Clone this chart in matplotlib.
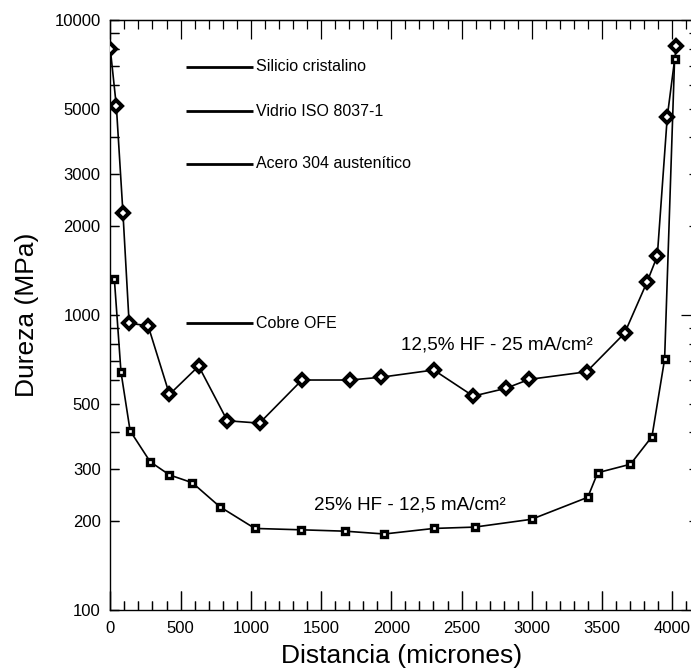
import matplotlib
matplotlib.use("Agg")
import matplotlib.pyplot as plt
from matplotlib.ticker import FixedLocator, NullFormatter, FixedFormatter

plt.rcParams['font.family'] = ['Liberation Sans', 'DejaVu Sans']

# Series 1: 12,5% HF - 25 mA/cm2 (diamonds)
dist_a = [0, 43, 90, 134, 269, 421, 629, 833, 1062, 1364, 1705, 1924, 2302,
          2583, 2814, 2981, 3390, 3660, 3821, 3893, 3964, 4029]
hard_a = [7970, 5110, 2220, 937, 920, 538, 671, 438, 430, 602, 602, 615, 651,
          531, 564, 605, 642, 867, 1297, 1585, 4700, 8180]

# Series 2: 25% HF - 12,5 mA/cm2 (squares)
dist_b = [29, 76, 141, 284, 421, 584, 779, 1029, 1359, 1671, 1950, 2302, 2593,
          2998, 3398, 3469, 3702, 3855, 3945, 4016]
hard_b = [1321, 641, 405, 318, 287, 270, 224, 189, 187, 185, 181, 189, 191,
          203, 241, 292, 312, 387, 708, 7360]

# Reference materials
ref_names = ["Silicio cristalino", "Vidrio ISO 8037-1", "Acero 304 austenítico", "Cobre OFE"]
ref_values = [6950, 4915, 3250, 937]
ref_x = [540, 1015]

label_a = "12,5% HF - 25 mA/cm²"
label_b = "25% HF - 12,5 mA/cm²"

ytick_major = [100, 200, 300, 500, 1000, 2000, 3000, 5000, 10000]
ytick_minor = [400, 600, 700, 800, 900, 4000, 6000, 7000, 8000, 9000]
xtick_major = list(range(0, 4001, 500))
xtick_minor = [v for v in range(0, 4101, 100) if v % 500 != 0]

AX_W_PX = 692 - 110.3
AX_H_PX = 590.0
PT = 100 / 72.0
XMAJ_LEN, XMIN_LEN, Y_LEN = 13.5, 6.5, 6.5

fig = plt.figure(figsize=(6.91, 6.72), dpi=100)
ax = fig.add_axes([110.3/691, 62/672, AX_W_PX/691, AX_H_PX/672])

ax.plot(dist_a, hard_a, color='black', lw=1.2, marker='D', ms=6.5,
        mfc='white', mec='black', mew=2.9, zorder=3)
ax.plot(dist_b, hard_b, color='black', lw=1.2, marker='s', ms=5,
        mfc='white', mec='black', mew=2.4, zorder=3)

for name, v in zip(ref_names, ref_values):
    ax.plot(ref_x, [v, v], color='black', lw=2.0, solid_capstyle='butt')
    ax.text(ref_x[1] + 20, v, name, fontsize=11.5, va='center', ha='left')

ax.text(2752, 791, label_a, fontsize=13.6, ha='center', va='center')
ax.text(2130, 227, label_b, fontsize=13.6, ha='center', va='center')

ax.set_yscale('log')
ax.set_xlim(0, 4140)
ax.set_ylim(100, 10000)

ax.yaxis.set_major_locator(FixedLocator(ytick_major))
ax.yaxis.set_major_formatter(FixedFormatter([str(v) for v in ytick_major]))
ax.yaxis.set_minor_locator(FixedLocator(ytick_minor))
ax.yaxis.set_minor_formatter(NullFormatter())
ax.xaxis.set_major_locator(FixedLocator(xtick_major))
ax.xaxis.set_major_formatter(FixedFormatter([str(v) for v in xtick_major]))
ax.xaxis.set_minor_locator(FixedLocator(xtick_minor))
ax.xaxis.set_minor_formatter(NullFormatter())

ax.tick_params(axis='x', which='major', direction='in', length=XMAJ_LEN, width=0.9,
               bottom=True, top=False, labelsize=12, pad=8)
ax.tick_params(axis='x', which='minor', direction='in', length=XMIN_LEN, width=0.9,
               bottom=True, top=False)
ax.tick_params(axis='y', which='both', direction='in', length=Y_LEN, width=0.9,
               left=True, right=False, labelsize=12, pad=7)

for s in ax.spines.values():
    s.set_linewidth(1.0)


def hidden_spines(a):
    for sp in a.spines.values():
        sp.set_visible(False)


# bottom inward ticks: thin secondary axes placed one tick-length above the
# bottom spine, with downward ticks reaching the spine
bmaj = ax.secondary_xaxis(XMAJ_LEN * PT / AX_H_PX)
bmaj.xaxis.set_ticks_position('top')
bmaj.xaxis.set_major_locator(FixedLocator(xtick_major))
bmaj.xaxis.set_minor_locator(FixedLocator([]))
bmaj.xaxis.set_major_formatter(NullFormatter())
bmaj.tick_params(axis='x', which='major', direction='in', length=XMAJ_LEN, width=0.9,
                 labeltop=False, labelbottom=False)
hidden_spines(bmaj)

bmin = ax.secondary_xaxis(XMIN_LEN * PT / AX_H_PX)
bmin.xaxis.set_ticks_position('top')
bmin.xaxis.set_major_locator(FixedLocator(xtick_minor))
bmin.xaxis.set_minor_locator(FixedLocator([]))
bmin.xaxis.set_major_formatter(NullFormatter())
bmin.tick_params(axis='x', which='major', direction='in', length=XMIN_LEN, width=0.9,
                 labeltop=False, labelbottom=False)
hidden_spines(bmin)

# left inward ticks: same idea, ticks pointing left onto the left spine
lt = ax.secondary_yaxis(Y_LEN * PT / AX_W_PX)
lt.set_yscale('log')
lt.yaxis.set_ticks_position('right')
lt.yaxis.set_major_locator(FixedLocator(ytick_major + ytick_minor))
lt.yaxis.set_minor_locator(FixedLocator([]))
lt.yaxis.set_major_formatter(NullFormatter())
lt.yaxis.set_minor_formatter(NullFormatter())
lt.tick_params(axis='y', which='major', direction='in', length=Y_LEN, width=0.9,
               labelleft=False, labelright=False)
hidden_spines(lt)

# top axis (ticks only)
topx = ax.secondary_xaxis('top')
topx.xaxis.set_major_locator(FixedLocator(xtick_major))
topx.xaxis.set_minor_locator(FixedLocator(xtick_minor))
topx.xaxis.set_major_formatter(NullFormatter())
topx.xaxis.set_minor_formatter(NullFormatter())
topx.tick_params(axis='x', which='major', direction='in', length=XMAJ_LEN, width=0.9)
topx.tick_params(axis='x', which='minor', direction='in', length=XMIN_LEN, width=0.9)

# right axis (ticks only)
sec = ax.secondary_yaxis('right')
sec.set_yscale('log')
sec.yaxis.set_major_locator(FixedLocator([100, 1000, 10000]))
sec.yaxis.set_minor_locator(FixedLocator([200, 300, 400, 500, 600, 700, 800, 900,
                                          2000, 3000, 4000, 5000, 6000, 7000, 8000, 9000]))
sec.yaxis.set_major_formatter(NullFormatter())
sec.yaxis.set_minor_formatter(NullFormatter())
sec.tick_params(axis='y', which='major', direction='in', length=8, width=0.9)
sec.tick_params(axis='y', which='minor', direction='in', length=2.2, width=0.9)

ax.set_xlabel("Distancia (micrones)", fontsize=19, labelpad=6)
ax.set_ylabel("Dureza (MPa)", fontsize=19, labelpad=11)

fig.savefig("out.png", dpi=100)
